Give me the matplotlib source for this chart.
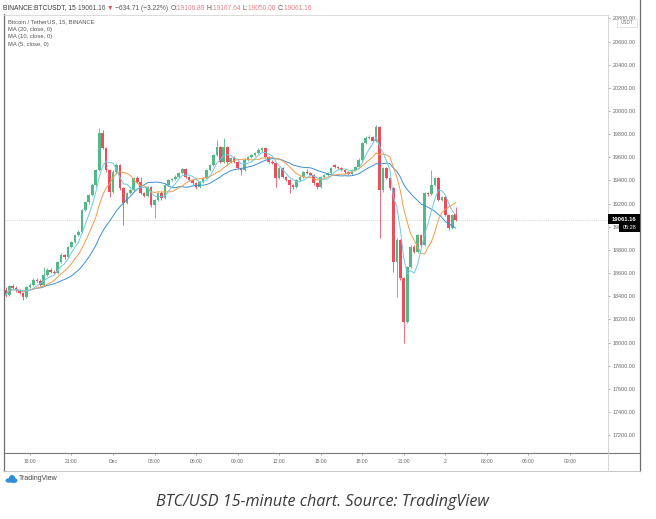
import matplotlib
matplotlib.use("Agg")
import matplotlib.pyplot as plt
import numpy as np
import pandas as pd
from matplotlib.lines import Line2D
from matplotlib.patches import Rectangle, Ellipse

W, H = 656, 519

# BTC/USDT 15-minute candles, first bar 30 Nov 16:15
start = "2020-11-30 16:15"
opens = [18454, 18411, 18489, 18471, 18454, 18428, 18394, 18480, 18497, 18541,
         18532, 18497, 18584, 18627, 18610, 18601, 18696, 18756, 18739, 18826,
         18869, 18929, 18955, 19145, 19214, 19275, 19361, 19490, 19810, 19680, 19490,
         19300, 19473, 19534, 19335, 19206, 19292, 19318, 19421, 19387, 19292,
         19266, 19344, 19188, 19231, 19292, 19249, 19361, 19404, 19410, 19430,
         19465, 19499, 19430, 19404, 19378, 19344, 19387, 19421, 19490, 19534,
         19620, 19689, 19560, 19689, 19560, 19594, 19560, 19508, 19490, 19577,
         19603, 19620, 19637, 19663, 19680, 19603, 19560, 19551, 19421, 19508,
         19430, 19404, 19361, 19344, 19404, 19430, 19473, 19465, 19447, 19378,
         19344, 19430, 19447, 19465, 19534, 19516, 19508, 19490, 19473, 19456,
         19490, 19516, 19577, 19724, 19767, 19775, 19741, 19862, 19318, 19508,
         19421, 19335, 18696, 18886, 18558, 18178, 18653, 18826, 18782, 18929,
         18843, 19292, 19283, 19361, 19421, 19231, 19257, 19102, 18990, 19106.89]
highs = [18480, 18500, 18505, 18485, 18465, 18440, 18490, 18510, 18555, 18560,
         18545, 18650, 18640, 18645, 18625, 18705, 18770, 18765, 18835, 18880,
         18940, 18970, 19155, 19225, 19285, 19375, 19500, 19853, 19840, 19690, 19500,
         19490, 19550, 19545, 19345, 19300, 19330, 19430, 19440, 19430, 19300,
         19355, 19355, 19240, 19300, 19305, 19370, 19415, 19420, 19445, 19475,
         19510, 19510, 19440, 19415, 19390, 19395, 19430, 19500, 19545, 19630,
         19750, 19700, 19767, 19700, 19605, 19610, 19570, 19520, 19590, 19615,
         19630, 19650, 19680, 19690, 19690, 19615, 19575, 19560, 19520, 19520,
         19440, 19415, 19370, 19415, 19440, 19485, 19495, 19475, 19460, 19390,
         19440, 19460, 19475, 19520, 19545, 19525, 19520, 19500, 19485, 19500,
         19525, 19590, 19735, 19780, 19790, 19785, 19879, 19870, 19520, 19520,
         19430, 19345, 18900, 18895, 18570, 18665, 18840, 18840, 18940, 18940,
         19300, 19300, 19490, 19430, 19430, 19270, 19270, 19110, 19110, 19167.64]
lows = [18390, 18400, 18460, 18440, 18415, 18370, 18385, 18470, 18490, 18525,
        18485, 18490, 18575, 18600, 18590, 18595, 18690, 18725, 18730, 18815,
        18860, 18920, 18945, 19135, 19200, 19265, 19350, 19480, 19670, 19470, 19257,
        19290, 19460, 19320, 19015, 19195, 19280, 19310, 19375, 19280, 19255,
        19255, 19175, 19076, 19220, 19235, 19240, 19350, 19395, 19400, 19420,
        19455, 19420, 19395, 19365, 19330, 19335, 19375, 19410, 19480, 19525,
        19610, 19550, 19550, 19545, 19550, 19550, 19495, 19447, 19480, 19565,
        19595, 19610, 19625, 19650, 19595, 19550, 19540, 19344, 19410, 19420,
        19395, 19292, 19330, 19335, 19395, 19420, 19455, 19435, 19365, 19330,
        19335, 19420, 19440, 19455, 19505, 19495, 19480, 19460, 19445, 19445,
        19480, 19505, 19565, 19715, 19755, 19730, 19730, 18903, 19300, 19410,
        19320, 18610, 18394, 18540, 17996, 18170, 18640, 18770, 18770, 18830,
        18835, 19270, 19275, 19350, 19220, 19220, 19090, 18975, 18980, 19050]
closes = [18411, 18489, 18471, 18454, 18428, 18394, 18480, 18497, 18541, 18532,
          18497, 18584, 18627, 18610, 18601, 18696, 18756, 18739, 18826, 18869,
          18929, 18955, 19145, 19214, 19275, 19361, 19490, 19810, 19680, 19490, 19300,
          19473, 19534, 19335, 19206, 19292, 19318, 19421, 19387, 19292, 19266,
          19344, 19188, 19231, 19292, 19249, 19361, 19404, 19410, 19430, 19465,
          19499, 19430, 19404, 19378, 19344, 19387, 19421, 19490, 19534, 19620,
          19689, 19560, 19689, 19560, 19594, 19560, 19508, 19490, 19577, 19603,
          19620, 19637, 19663, 19680, 19603, 19560, 19551, 19421, 19508, 19430,
          19404, 19361, 19344, 19404, 19430, 19473, 19465, 19447, 19378, 19344,
          19430, 19447, 19465, 19508, 19516, 19508, 19490, 19473, 19456, 19490,
          19516, 19577, 19724, 19767, 19775, 19741, 19862, 19318, 19508, 19421,
          19335, 18696, 18886, 18558, 18178, 18653, 18826, 18782, 18929, 18843,
          19292, 19283, 19361, 19421, 19231, 19257, 19102, 18990, 19102, 19061.16]

ma_periods = [20, 10, 5]
ma_colors = ["#3d8fd8", "#f59a4a", "#6fcbe0"]

price_ticks = np.arange(17200, 20801, 200)
time_ticks = ["2020-11-30 18:00", "2020-11-30 21:00", "2020-12-01 00:00", "2020-12-01 03:00",
              "2020-12-01 06:00", "2020-12-01 09:00", "2020-12-01 12:00", "2020-12-01 15:00",
              "2020-12-01 18:00", "2020-12-01 21:00", "2020-12-02 00:00", "2020-12-02 03:00",
              "2020-12-02 06:00", "2020-12-02 09:00"]
time_labels = ["18:00", "21:00", "Dec", "03:00", "06:00", "09:00", "12:00", "15:00",
               "18:00", "21:00", "2", "03:00", "06:00", "09:00"]

symbol = "BINANCE:BTCUSDT, 15"
last_price = 19061.16
change = -634.71
change_pct = -3.22
bar_ohlc = [("O", 19106.89), ("H", 19167.64), ("L", 19050.00), ("C", 19061.16)]
countdown = "05:28"
legend_lines = ["Bitcoin / TetherUS, 15, BINANCE", "MA (20, close, 0)",
                "MA (10, close, 0)", "MA (5, close, 0)"]
caption = "BTC/USD 15-minute chart. Source: TradingView"

UP, DOWN = "#53b987", "#eb4d5c"
SANS = ["Liberation Sans", "DejaVu Sans"]


def fx(px):
    return px / W


def fy(py):
    return 1 - py / H


fig = plt.figure(figsize=(W / 100, H / 100), dpi=100)
fig.patch.set_facecolor("white")

# plot area in pixels: x 4..608, y 15..453
ax = fig.add_axes([fx(4), fy(453), fx(604), (453 - 15) / H])
ax.set_facecolor("white")

n = len(closes)
xs = np.arange(n)
o = np.array(opens, float)
c = np.array(closes, float)
hi = np.array(highs, float)
lo = np.array(lows, float)
cols = np.where(c >= o, UP, DOWN)

ax.vlines(xs, lo, hi, colors=cols, linewidth=0.6, zorder=2)
body = np.maximum(np.abs(c - o), 4)
ax.bar(xs, body, bottom=np.minimum(o, c), width=0.76, color=cols, linewidth=0, zorder=3)

close_s = pd.Series(c)
for period, color in zip(ma_periods, ma_colors):
    ma = close_s.rolling(period, min_periods=1).mean()
    ax.plot(xs, ma, color=color, linewidth=0.7, zorder=4)

ax.axhline(last_price, color="#c9c9c9", linestyle=(0, (1, 1.5)), linewidth=0.6, zorder=1)

t0 = pd.Timestamp(start)
tick_pos = (pd.to_datetime(time_ticks) - t0) / pd.Timedelta("15min")

ax.set_xlim(-0.5, 174.0)
ax.set_ylim(17046, 20829)
ax.set_xticks(tick_pos)
ax.set_xticklabels(time_labels)
ax.set_yticks(price_ticks)
ax.set_yticklabels([f"{p:.2f}" for p in price_ticks])
ax.yaxis.tick_right()
ax.tick_params(axis="x", length=1.6, width=0.5, color="#888888", pad=2.5,
               labelsize=3.6, labelcolor="#666666")
ax.tick_params(axis="y", length=1.6, width=0.5, color="#888888", pad=1.8,
               labelsize=3.9, labelcolor="#666666")
for lab in ax.get_xticklabels() + ax.get_yticklabels():
    lab.set_family(SANS)
for s in ax.spines.values():
    s.set_visible(False)

# widget frame
frame = [
    ((4, 4), (14, 471), "#6e6e6e", 0.9),
    ((640, 640), (0, 471), "#6e6e6e", 0.9),
    ((4, 640), (471, 471), "#bdbdbd", 0.6),
    ((4, 640), (453, 453), "#7a7a7a", 0.8),
    ((608, 608), (15, 471), "#cfcfcf", 0.6),
    ((4, 608), (15, 15), "#d6d6d6", 0.6),
]
for (xa, xb), (ya, yb), color, lw in frame:
    fig.add_artist(Line2D([fx(xa), fx(xb)], [fy(ya), fy(yb)], color=color,
                          linewidth=lw, transform=fig.transFigure))

# header line, pieces placed one after another
fig.canvas.draw()
renderer = fig.canvas.get_renderer()
pink = "#e8808c"
pieces = [(symbol + " ", "#3a3a3a"), (f"{last_price:.2f} ", "#555555"),
          ("\u25bc ", DOWN),
          (f"\u2212{abs(change):.2f} (\u2212{abs(change_pct):.2f}%) ", "#555555")]
for key, val in bar_ohlc:
    pieces.append((f"{key}:", "#555555"))
    pieces.append((f"{val:.2f} ", pink))
xcur = 3
for text, color in pieces:
    t = fig.text(fx(xcur), fy(8), text, color=color, fontsize=4.75, family=SANS,
                 ha="left", va="center")
    xcur += t.get_window_extent(renderer=renderer).width

for i, line in enumerate(legend_lines):
    fig.text(fx(8), fy(22 + i * 7.4), line, color="#555555", fontsize=4.2,
             family=SANS, ha="left", va="center")

# USDT badge
fig.add_artist(Rectangle((fx(617), fy(27)), 20 / W, 8 / H, transform=fig.transFigure,
                         facecolor="white", edgecolor="#d0d0d0", linewidth=0.4))
fig.text(fx(627), fy(23), "USDT", fontsize=3.4, color="#777777", family=SANS,
         ha="center", va="center")

# last price and countdown labels
fig.add_artist(Rectangle((fx(608), fy(223.5)), 32 / W, 9 / H, transform=fig.transFigure,
                         facecolor="black", edgecolor="none", zorder=5))
fig.text(fx(624), fy(219), f"{last_price:.2f}", fontsize=4.2, color="white",
         weight="bold", family=SANS, ha="center", va="center", zorder=6)
fig.add_artist(Rectangle((fx(619), fy(232)), 21 / W, 8.5 / H, transform=fig.transFigure,
                         facecolor="black", edgecolor="none", zorder=5))
fig.text(fx(629.5), fy(227.8), countdown, fontsize=4.0, color="white",
         family=SANS, ha="center", va="center", zorder=6)

# TradingView logo
logo = fig.add_axes([fx(5), fy(484), 13 / W, 10 / H])
logo.set_xlim(0, 13)
logo.set_ylim(0, 10)
logo.axis("off")
for (cx, cy, w, h) in [(4, 3.5, 7, 4.5), (8.5, 3.5, 8, 5), (7, 6, 6, 6)]:
    logo.add_patch(Ellipse((cx, cy), w, h, color="#2f8fd8", linewidth=0))
fig.text(fx(19), fy(478.5), "TradingView", fontsize=5.0, color="#444444",
         family=SANS, ha="left", va="center")

fig.text(fx(322), fy(502), caption, fontsize=11.6, style="italic", color="#3a3a3a",
         family=["Open Sans", "DejaVu Sans"], ha="center", va="center")

fig.savefig("out.png", dpi=100, facecolor="white")
